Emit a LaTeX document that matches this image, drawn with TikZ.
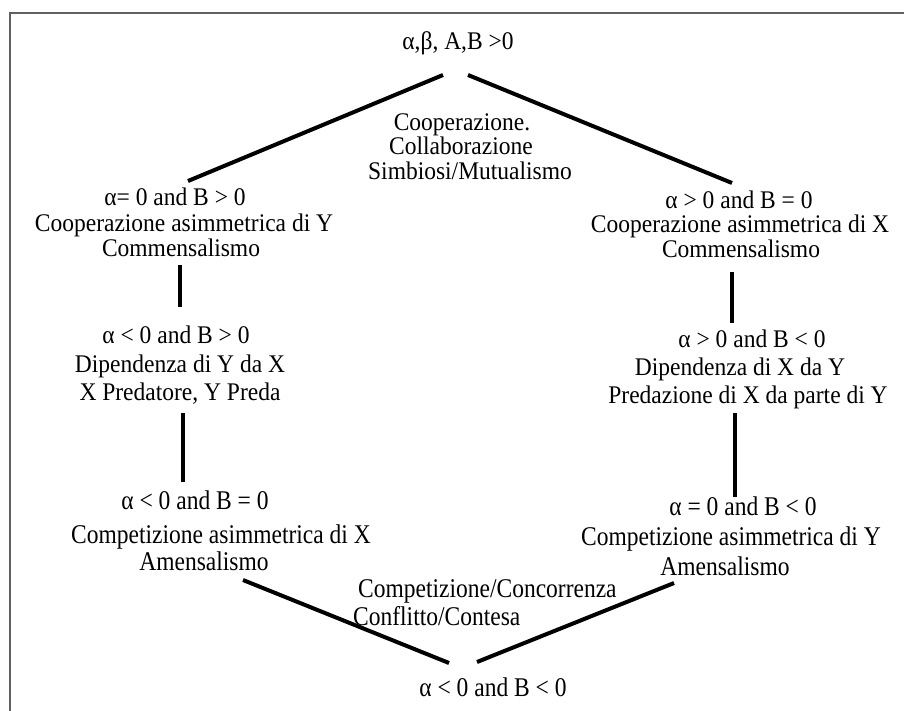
\documentclass[tikz,border=0pt]{standalone}
\usepackage{fontspec}
\usepackage{graphicx}
\setmainfont{Liberation Serif}
\newcommand{\tallt}[1]{\scalebox{1}[1.08]{#1}}
\newcommand{\tallb}[1]{\scalebox{1}[1.15]{#1}}
\begin{document}
\begin{tikzpicture}[x=1pt,y=-1pt,
  lbl/.style={inner sep=0pt, anchor=base, font=\fontsize{23.5}{28}\selectfont},
  lblw/.style={lbl, anchor=base west},
  conn/.style={line width=4pt, black},
  frame/.style={line width=2pt, draw=black!62}]
\useasboundingbox (0,0) rectangle (904,711);
\fill[white] (0,0) rectangle (904,711);
% frame
\coordinate (fbl) at (9.5,711);
\coordinate (ftl) at (9.5,13.5);
\coordinate (ftr) at (904,13.5);
\draw[frame] (fbl) -- (ftl) -- (ftr);
% top
\node[lbl] (top) at (458,50) {\tallt{α,β, A,B >0}};
\node[lbl] (c1) at (462,131) {\tallt{Cooperazione.}};
\node[lbl] (c2) at (461,155) {\tallt{Collaborazione}};
\node[lbl] (c3) at (470,180) {\tallt{Simbiosi/Mutualismo}};
% left column
\node[lbl] (l1a) at (175,206) {\tallt{α= 0 and B > 0}};
\node[lbl] (l1b) at (184,232) {\tallt{Cooperazione asimmetrica di Y}};
\node[lbl] (l1c) at (181,256) {\tallt{Commensalismo}};
\node[lbl] (l2a) at (176,343) {\tallt{α < 0 and B > 0}};
\node[lbl] (l2b) at (180,372) {\tallt{Dipendenza di Y da X}};
\node[lbl] (l2c) at (180,400) {\tallt{X Predatore, Y Preda}};
\node[lbl] (l3a) at (195,509) {\tallb{α < 0 and B = 0}};
\node[lbl] (l3b) at (221,543) {\tallb{Competizione asimmetrica di X}};
\node[lbl] (l3c) at (204,570) {\tallb{Amensalismo}};
% right column
\node[lbl] (r1a) at (739,209) {\tallt{α > 0 and B = 0}};
\node[lbl] (r1b) at (740,233) {\tallt{Cooperazione asimmetrica di X}};
\node[lbl] (r1c) at (741,258) {\tallt{Commensalismo}};
\node[lbl] (r2a) at (752,347) {\tallt{α > 0 and B < 0}};
\node[lbl] (r2b) at (740,375) {\tallt{Dipendenza di X da Y}};
\node[lbl] (r2c) at (748,403) {\tallt{Predazione di X da parte di Y}};
\node[lbl] (r3a) at (743,515) {\tallb{α = 0 and B < 0}};
\node[lbl] (r3b) at (731,545) {\tallb{Competizione asimmetrica di Y}};
\node[lbl] (r3c) at (725,575) {\tallb{Amensalismo}};
% bottom
\node[lblw] (b1) at (358,597) {\tallb{Competizione/Concorrenza}};
\node[lblw] (b2) at (353,625) {\tallb{Conflitto/Contesa}};
\node[lbl] (b3) at (493,696) {\tallb{α < 0 and B < 0}};
% connector ends
\coordinate (tl) at (443,75);
\coordinate (tr) at (468,75);
\coordinate (ul) at (188,181);
\coordinate (ur) at (732,183);
\coordinate (v1t) at (180,265);
\coordinate (v1b) at (180,307);
\coordinate (v2t) at (183,413);
\coordinate (v2b) at (183,482);
\coordinate (w1t) at (732,272);
\coordinate (w1b) at (732,323);
\coordinate (w2t) at (735,413);
\coordinate (w2b) at (735,497);
\coordinate (dl) at (243,580);
\coordinate (dr) at (674,583);
\coordinate (bl) at (449,663);
\coordinate (br) at (477,662);
% connectors
\draw[conn] (tl) -- (ul);
\draw[conn] (tr) -- (ur);
\draw[conn] (v1t) -- (v1b);
\draw[conn] (v2t) -- (v2b);
\draw[conn] (w1t) -- (w1b);
\draw[conn] (w2t) -- (w2b);
\draw[conn] (dl) -- (bl);
\draw[conn] (dr) -- (br);
\end{tikzpicture}
\end{document}
